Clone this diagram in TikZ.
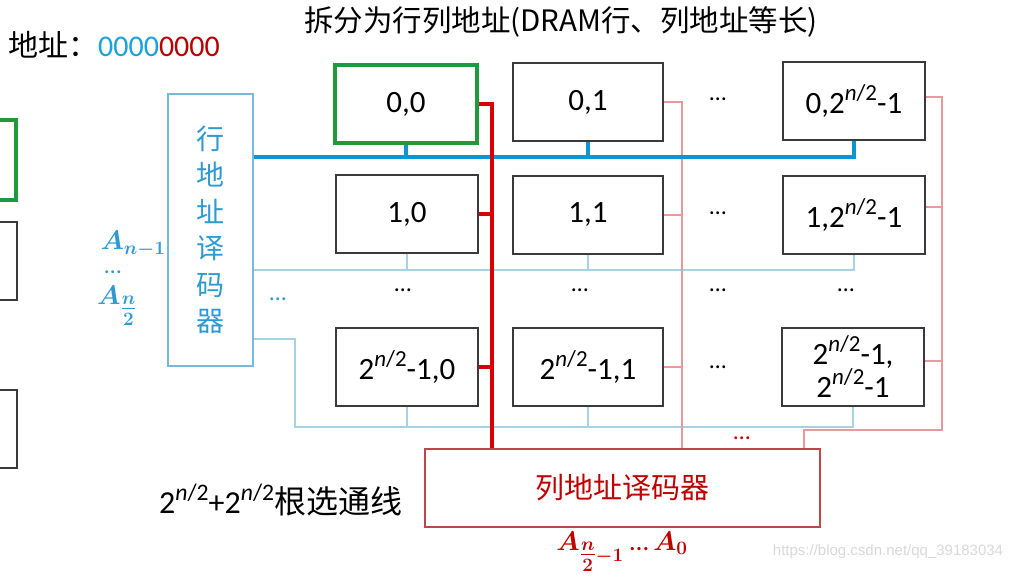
\RequirePackage{fix-cm}
\documentclass[tikz,border=0pt]{standalone}
\usepackage{fontspec}
\usepackage{amsmath}
\usepackage{bm}
\usepackage{graphicx}
\setmainfont{Carlito}
\newfontfamily\cjk{Noto Sans CJK SC}
\newfontfamily\wmfont{Liberation Sans}
\definecolor{busblue}{HTML}{0A96D6}
\definecolor{thinblue}{HTML}{A6D3E3}
\definecolor{rdblue}{HTML}{78B8D8}
\definecolor{txtblue}{HTML}{2E9AD2}
\definecolor{addrblue}{HTML}{1AA3DA}
\definecolor{addrred}{HTML}{B80000}
\definecolor{busred}{HTML}{D80000}
\definecolor{thinred}{HTML}{E69A9E}
\definecolor{cdred}{HTML}{C0444C}
\definecolor{txtred}{HTML}{C00000}
\definecolor{selgreen}{HTML}{1E9A3C}
\definecolor{cellgray}{HTML}{3A3A3A}
\newcommand\twon{2\raisebox{0.42em}{\scalebox{0.74}{\textit{n}/2}}}
\newcommand\halfn{\genfrac{}{}{0.6pt}{1}{n}{2}}
\tikzset{
  cell/.style={draw=cellgray, line width=1.4pt, minimum width=142pt, minimum height=78pt,
    inner sep=0pt, align=center, font=\fontsize{31}{32}\selectfont},
  widecell/.style={cell, minimum width=150pt},
  selcell/.style={cell, draw=selgreen, line width=3.5pt},
  rowbus/.style={draw=busblue, line width=3.5pt},
  rowthin/.style={draw=thinblue, line width=1.3pt},
  colbus/.style={draw=busred, line width=3.5pt},
  colthin/.style={draw=thinred, line width=1.1pt},
  dots/.style={font=\fontsize{24}{26}\selectfont, inner sep=0pt},
}
\begin{document}
\begin{tikzpicture}[x=1pt,y=-1pt]
\useasboundingbox (0,0) rectangle (1019,583);
\fill[white] (0,0) rectangle (1019,583);
\clip (0,0) rectangle (1019,583);

% partial boxes at the left edge
\draw[selgreen, line width=3.5pt] (-20,120) rectangle (16,200);
\draw[cellgray, line width=1.4pt] (-20,222) rectangle (17,300);
\draw[cellgray, line width=1.4pt] (-20,390) rectangle (17,468);

% texts
\node (title) at (561,22) {\cjk\fontsize{29.5}{31}\selectfont 拆分为行列地址(DRAM行、列地址等长)};
\node[anchor=west, inner sep=0pt] (addr) at (8,45) {\fontsize{30}{31}\selectfont{\cjk 地址：}\textcolor{addrblue}{0000}\textcolor{addrred}{0000}};

% row decoder
\node[draw=rdblue, line width=1.3pt, minimum width=85pt, minimum height=272pt, inner sep=0pt,
  align=center, text=txtblue, font=\cjk\fontsize{28}{36.5}\selectfont] (rd) at (210.5,230)
  {行\\地\\址\\译\\码\\器};
\node[text=txtblue, font=\fontsize{27}{28}\selectfont] (an1) at (133,244) {$\bm{A_{n-1}}$};
\node[text=txtblue, dots] (adots) at (113,272) {\ldots};
\node[text=txtblue, font=\fontsize{27}{28}\selectfont] (an2) at (117,306) {$\bm{A_{\halfn}}$};
\node[text=txtblue, dots] (rdots) at (278,299) {\ldots};

% cells
\node[selcell] (c00) at (406,104) {0,0};
\node[widecell] (c01) at (588,102) {0,1};
\node[cell] (c03) at (854,101) {0,\twon-1};
\node[cell] (c10) at (407,214) {1,0};
\node[widecell] (c11) at (588,215) {1,1};
\node[cell] (c13) at (854,215) {1,\twon-1};
\node[cell] (c30) at (407,367) {\twon-1,0};
\node[widecell] (c31) at (588,367) {\twon-1,1};
\node[cell, font=\fontsize{31}{33}\selectfont] (c33) at (853,367) {\twon-1,\\\twon-1};

% ellipses
\node[dots] (d02) at (718,99) {\ldots};
\node[dots] (d12) at (718,213) {\ldots};
\node[dots] (d20) at (403,290) {\ldots};
\node[dots] (d21) at (580,290) {\ldots};
\node[dots] (d22) at (718,290) {\ldots};
\node[dots] (d23) at (846,290) {\ldots};
\node[dots] (d32) at (718,367) {\ldots};
\node[dots, text=txtred] (dcol) at (742,438) {\ldots};

% column decoder
\node[draw=cdred, line width=1.3pt, minimum width=395pt, minimum height=78pt, inner sep=0pt,
  text=txtred, font=\cjk\fontsize{29}{31}\selectfont] (cd) at (622.5,488) {列地址译码器};
\node[text=txtred, font=\fontsize{27}{28}\selectfont] (acol) at (622,552)
  {$\bm{A_{\halfn-1}}$ \ldots\,$\bm{A_0}$};
\node[anchor=west, inner sep=0pt, font=\fontsize{32}{34}\selectfont] (sel) at (159,500)
  {\twon+\twon{\cjk 根选通线}};

% watermark
\node[text=black!15, font=\wmfont\fontsize{15}{17}\selectfont] (wm) at (888,552) {https://blog.csdn.net/qq\_39183034};

% row select lines
\coordinate (y0) at (0,157);
\coordinate (y1) at (0,270);
\coordinate (y3a) at (295,339);
\coordinate (y3) at (295,427);
\draw[rowthin] (rd.east |- y1) -- (c13.south |- y1) -- (c13.south);
\draw[rowthin] (c10.south) -- (c10.south |- y1);
\draw[rowthin] (c11.south) -- (c11.south |- y1);
\draw[rowthin] (rd.east |- y3a) -- (y3a) -- (y3) -- (c33.south |- y3) -- (c33.south);
\draw[rowthin] (c30.south) -- (c30.south |- y3);
\draw[rowthin] (c31.south) -- (c31.south |- y3);

% column select lines
\coordinate (b1) at (682,0);
\coordinate (b3) at (942,0);
\coordinate (b3turn) at (804,430);
\draw[colthin] (c01.east) -- (c01.east -| b1) -- (b1 |- cd.north);
\draw[colthin] (c11.east) -- (c11.east -| b1);
\draw[colthin] (c31.east) -- (c31.east -| b1);
\draw[colthin] ([yshift=4pt]c03.east) -- ([yshift=4pt]c03.east -| b3) -- (b3 |- b3turn) -- (b3turn) -- (b3turn |- cd.north);
\draw[colthin] ([yshift=8pt]c13.east) -- ([yshift=8pt]c13.east -| b3);
\draw[colthin] ([yshift=6pt]c33.east) -- ([yshift=6pt]c33.east -| b3);

% selected row bus (blue)
\draw[rowbus] (rd.east |- y0) -- (c03.south |- y0) -- (c03.south);
\draw[rowbus] (c00.south) -- (c00.south |- y0);
\draw[rowbus] (c01.south) -- (c01.south |- y0);

% selected column bus (red)
\coordinate (b0) at (492,0);
\draw[colbus] (c00.east) -- (c00.east -| b0) -- (b0 |- cd.north);
\draw[colbus] (c10.east) -- (c10.east -| b0);
\draw[colbus] (c30.east) -- (c30.east -| b0);
\end{tikzpicture}
\end{document}
